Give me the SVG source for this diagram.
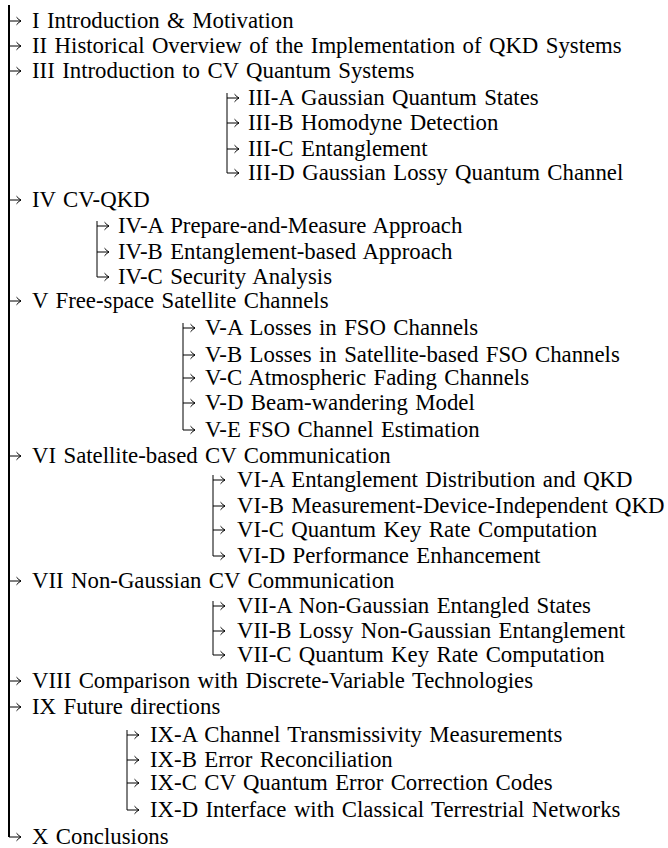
<svg xmlns="http://www.w3.org/2000/svg" width="668" height="848" viewBox="0 0 668 848">
<defs>
<marker id="ah" markerUnits="userSpaceOnUse" viewBox="-6 -5 10 10" markerWidth="10" markerHeight="10" refX="0" refY="0" orient="auto" overflow="visible">
<path d="M-4.5,-3.8 Q-1.8,-0.8 0,0 Q-1.8,0.8 -4.5,3.8" fill="none" stroke="#000" stroke-width="1"/>
</marker>
</defs>
<style>
.t text{font-size:22.8px;word-spacing:1.7px;fill:#000}
.v{stroke:#000;stroke-width:1;fill:none}
.vm{stroke:#000;stroke-width:2;fill:none}
.a{stroke:#000;stroke-width:1;fill:none;marker-end:url(#ah)}
</style>
<rect width="668" height="848" fill="#fff"/>
<g id="connectors">
<path class="vm" d="M9,5 V837"/>
<path class="a" d="M9,21 H21"/>
<path class="a" d="M9,46 H21"/>
<path class="a" d="M9,71 H21"/>
<path class="a" d="M9,200 H21"/>
<path class="a" d="M9,301 H21"/>
<path class="a" d="M9,456 H21"/>
<path class="a" d="M9,581 H21"/>
<path class="a" d="M9,681 H21"/>
<path class="a" d="M9,707 H21"/>
<path class="a" d="M9,837 H21"/>
<path class="v" d="M227,93 V173"/>
<path class="a" d="M227,98 H239"/>
<path class="a" d="M227,123 H239"/>
<path class="a" d="M227,149 H239"/>
<path class="a" d="M227,173 H239"/>
<path class="v" d="M97,221 V277"/>
<path class="a" d="M97,226 H109"/>
<path class="a" d="M97,252 H109"/>
<path class="a" d="M97,277 H109"/>
<path class="v" d="M183,323 V430"/>
<path class="a" d="M183,328 H195"/>
<path class="a" d="M183,355 H195"/>
<path class="a" d="M183,378 H195"/>
<path class="a" d="M183,403 H195"/>
<path class="a" d="M183,430 H195"/>
<path class="v" d="M213,475 V556"/>
<path class="a" d="M213,480 H225"/>
<path class="a" d="M213,506 H225"/>
<path class="a" d="M213,530 H225"/>
<path class="a" d="M213,556 H225"/>
<path class="v" d="M213,601 V655"/>
<path class="a" d="M213,606 H225"/>
<path class="a" d="M213,631 H225"/>
<path class="a" d="M213,655 H225"/>
<path class="v" d="M127,730 V810"/>
<path class="a" d="M127,735 H139"/>
<path class="a" d="M127,760 H139"/>
<path class="a" d="M127,783 H139"/>
<path class="a" d="M127,810 H139"/>
</g>
<g class="t" font-family="'Liberation Serif', 'Times New Roman', Times, serif">
<g id="n-I"><text x="32" y="28">I Introduction &amp; Motivation</text></g>
<g id="n-II"><text x="32" y="53">II Historical Overview of the Implementation of QKD Systems</text></g>
<g id="n-III"><text x="32" y="78">III Introduction to CV Quantum Systems</text></g>
<g id="n-IIIA"><text x="248" y="105">III-A Gaussian Quantum States</text></g>
<g id="n-IIIB"><text x="248" y="130">III-B Homodyne Detection</text></g>
<g id="n-IIIC"><text x="248" y="156">III-C Entanglement</text></g>
<g id="n-IIID"><text x="248" y="180">III-D Gaussian Lossy Quantum Channel</text></g>
<g id="n-IV"><text x="32" y="207">IV CV-QKD</text></g>
<g id="n-IVA"><text x="118" y="233">IV-A Prepare-and-Measure Approach</text></g>
<g id="n-IVB"><text x="118" y="259">IV-B Entanglement-based Approach</text></g>
<g id="n-IVC"><text x="118" y="284">IV-C Security Analysis</text></g>
<g id="n-V"><text x="32" y="308">V Free-space Satellite Channels</text></g>
<g id="n-VA"><text x="205" y="335">V-A Losses in FSO Channels</text></g>
<g id="n-VB"><text x="205" y="362">V-B Losses in Satellite-based FSO Channels</text></g>
<g id="n-VC"><text x="205" y="385">V-C Atmospheric Fading Channels</text></g>
<g id="n-VD"><text x="205" y="410">V-D Beam-wandering Model</text></g>
<g id="n-VE"><text x="205" y="437">V-E FSO Channel Estimation</text></g>
<g id="n-VI"><text x="32" y="463">VI Satellite-based CV Communication</text></g>
<g id="n-VIA"><text x="237" y="487">VI-A Entanglement Distribution and QKD</text></g>
<g id="n-VIB"><text x="237" y="513">VI-B Measurement-Device-Independent QKD</text></g>
<g id="n-VIC"><text x="237" y="537">VI-C Quantum Key Rate Computation</text></g>
<g id="n-VID"><text x="237" y="563">VI-D Performance Enhancement</text></g>
<g id="n-VII"><text x="32" y="588">VII Non-Gaussian CV Communication</text></g>
<g id="n-VIIA"><text x="237" y="613">VII-A Non-Gaussian Entangled States</text></g>
<g id="n-VIIB"><text x="237" y="638">VII-B Lossy Non-Gaussian Entanglement</text></g>
<g id="n-VIIC"><text x="237" y="662">VII-C Quantum Key Rate Computation</text></g>
<g id="n-VIII"><text x="32" y="688">VIII Comparison with Discrete-Variable Technologies</text></g>
<g id="n-IX"><text x="32" y="714">IX Future directions</text></g>
<g id="n-IXA"><text x="150" y="742">IX-A Channel Transmissivity Measurements</text></g>
<g id="n-IXB"><text x="150" y="767">IX-B Error Reconciliation</text></g>
<g id="n-IXC"><text x="150" y="790">IX-C CV Quantum Error Correction Codes</text></g>
<g id="n-IXD"><text x="150" y="817">IX-D Interface with Classical Terrestrial Networks</text></g>
<g id="n-X"><text x="32" y="844">X Conclusions</text></g>
</g>
</svg>
